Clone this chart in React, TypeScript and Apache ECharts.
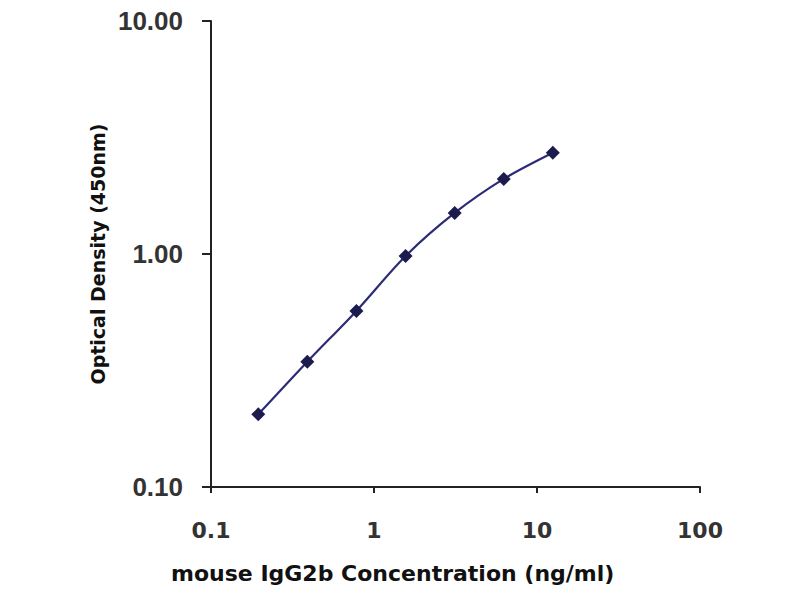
import React, { useEffect, useRef } from "react";
import * as echarts from "echarts";

const concentrations = [0.195, 0.39, 0.78, 1.5625, 3.125, 6.25, 12.5];
const opticalDensity = [0.205, 0.345, 0.57, 0.98, 1.5, 2.1, 2.72];
const xTitle = "mouse IgG2b Concentration (ng/ml)";
const yTitle = "Optical Density (450nm)";

export default function App() {
  const ref = useRef<HTMLDivElement>(null);
  useEffect(() => {
    if (!ref.current) return;
    const chart = echarts.init(ref.current, undefined, { renderer: "svg" });
    const data = concentrations.map((c, i) => [c, opticalDensity[i]]);
    chart.setOption({
      animation: false,
      backgroundColor: "#ffffff",
      grid: { left: 211, right: 100, top: 21, bottom: 113, containLabel: false },
      graphic: [
        {
          type: "text",
          left: 397 - 226,
          top: 574 - 12,
          style: {
            text: xTitle,
            fontFamily: "DejaVu Sans",
            fontWeight: "bold",
            fontSize: 22,
            fill: "#111",
          },
        },
      ],
      xAxis: {
        type: "log",
        logBase: 10,
        min: 0.1,
        max: 100,
        axisLine: { lineStyle: { color: "#222", width: 2 } },
        axisTick: { show: true, inside: false, length: 6, lineStyle: { color: "#222", width: 2 } },
        minorTick: { show: false },
        splitLine: { show: false },
        axisLabel: {
          margin: 32,
          fontFamily: "DejaVu Sans",
          fontWeight: "bold",
          fontSize: 22,
          color: "#333",
          formatter: (v: number) => String(v),
        },
      },
      yAxis: {
        type: "log",
        logBase: 10,
        min: 0.1,
        max: 10,
        name: yTitle,
        nameLocation: "middle",
        nameGap: 104,
        nameTextStyle: { fontFamily: "DejaVu Sans", fontWeight: "bold", fontSize: 19, color: "#111" },
        axisLine: { lineStyle: { color: "#222", width: 2 } },
        axisTick: { show: true, inside: false, length: 9, lineStyle: { color: "#222", width: 2 } },
        splitLine: { show: false },
        axisLabel: {
          margin: 28,
          fontFamily: "Liberation Sans",
          fontWeight: "bold",
          fontSize: 26,
          color: "#333",
          formatter: (v: number) => v.toFixed(2),
        },
      },
      series: [
        {
          type: "line",
          data,
          smooth: 0.3,
          symbol: "diamond",
          symbolSize: 14,
          lineStyle: { color: "#2b2b78", width: 2.2 },
          itemStyle: { color: "#1b1b4e" },
        },
      ],
    });
    return () => chart.dispose();
  }, []);
  return <div ref={ref} style={{ width: 800, height: 600, position: "absolute", left: 0, top: 0 }} />;
}
